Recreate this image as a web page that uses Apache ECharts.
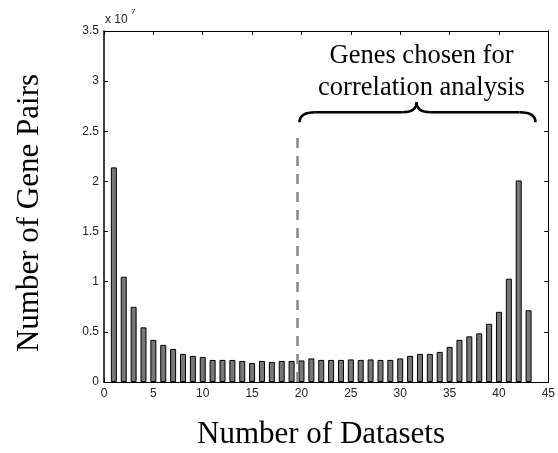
<!DOCTYPE html>
<html>
<head>
<meta charset="utf-8">
<script src="https://cdn.jsdelivr.net/npm/echarts@6/dist/echarts.min.js"></script>
<style>html,body{margin:0;padding:0;background:#fff}#c{width:558px;height:453px}</style>
</head>
<body>
<div id="c"></div>
<script>
// Data (values in units of 1e7 gene pairs)
var datasets = [1,2,3,4,5,6,7,8,9,10,11,12,13,14,15,16,17,18,19,20,21,22,23,24,25,26,27,28,29,30,31,32,33,34,35,36,37,38,39,40,41,42,43];
var pairs = [2.14,1.05,0.75,0.545,0.42,0.37,0.33,0.28,0.26,0.25,0.22,0.22,0.22,0.21,0.19,0.21,0.20,0.21,0.21,0.215,0.235,0.22,0.22,0.22,0.225,0.22,0.225,0.22,0.22,0.235,0.26,0.28,0.28,0.30,0.35,0.42,0.455,0.485,0.58,0.70,1.03,2.01,0.715];
var scale = 1e7;
var xTicks = [0,5,10,15,20,25,30,35,40,45];
var yTicks = [0,0.5,1,1.5,2,2.5,3,3.5];
var cutoff = 19.6;       // dashed line position
var cutoffTop = 2.47;    // dashed line top (x1e7)

var chart = echarts.init(document.getElementById('c'), null, {renderer:'canvas'});
var tickFont = {fontFamily:'Liberation Sans, Arial, sans-serif', fontSize:12, color:'#222'};
var axisLine = {show:true, onZero:false, lineStyle:{color:'#000', width:1}};
var tickStyle = {show:true, inside:true, length:4, lineStyle:{color:'#000', width:1}};

var barData = datasets.map(function(d,i){ return [d, pairs[i]*scale]; });

chart.setOption({
  animation:false,
  grid:{left:104, right:8, top:31, bottom:71},
  xAxis:[
    {type:'value', min:0, max:45, interval:5, position:'bottom',
     axisLine:axisLine, axisTick:tickStyle, splitLine:{show:false},
     axisLabel:Object.assign({margin:6}, tickFont)},
    {type:'value', min:0, max:45, interval:5, position:'top',
     axisLine:axisLine, axisTick:tickStyle, splitLine:{show:false},
     axisLabel:{show:false}}
  ],
  yAxis:[
    {type:'value', min:0, max:3.5*scale, interval:0.5*scale, position:'left',
     axisLine:{show:true, onZero:false, lineStyle:{color:'#000', width:1.5}}, axisTick:tickStyle, splitLine:{show:false},
     axisLabel:Object.assign({margin:5, formatter:function(v){ return String(+(v/scale).toFixed(1)); }}, tickFont)},
    {type:'value', min:0, max:3.5*scale, interval:0.5*scale, position:'right',
     axisLine:axisLine, axisTick:tickStyle, splitLine:{show:false},
     axisLabel:{show:false}}
  ],
  series:[{
    type:'bar', xAxisIndex:0, yAxisIndex:0,
    data:barData, barWidth:6,
    itemStyle:{color:'#777', borderColor:'#000', borderWidth:1},
    markLine:{
      silent:true, symbol:'none', label:{show:false},
      lineStyle:{color:'#888', width:2.5, type:[10,8]},
      data:[[{coord:[cutoff,0]},{coord:[cutoff,cutoffTop*scale]}]]
    }
  },{
    type:'line', xAxisIndex:1, yAxisIndex:1, data:[], silent:true
  }]
});

// Annotations: brace, text, exponent
var pl = chart.convertToPixel({xAxisIndex:0, yAxisIndex:0}, [19.8, 2.59*scale]);
var pr = chart.convertToPixel({xAxisIndex:0, yAxisIndex:0}, [43.7, 2.59*scale]);
var xl = pl[0], xr = pr[0], yb = pl[1];
var xm = (xl+xr)/2 - 1, yh = yb - 10, yc = yb - 20;
var braceStyle = {fill:null, stroke:'#000', lineWidth:2.5};
function qc(x1,y1,cx,cy,x2,y2){
  return {type:'bezierCurve', shape:{x1:x1,y1:y1,cpx1:cx,cpy1:cy,x2:x2,y2:y2}, style:braceStyle};
}
function ln(x1,y1,x2,y2){
  return {type:'line', shape:{x1:x1,y1:y1,x2:x2,y2:y2}, style:braceStyle};
}

var serif = 'Liberation Serif, Times New Roman, serif';
chart.setOption({graphic:[
  qc(xl,yb, xl,yh, xl+16,yh),
  ln(xl+16,yh, xm-14,yh),
  qc(xm-14,yh, xm,yh, xm,yc),
  qc(xm,yc, xm,yh, xm+14,yh),
  ln(xm+14,yh, xr-16,yh),
  qc(xr-16,yh, xr,yh, xr,yb),
  {type:'text', x:xm+5, y:56, style:{text:'Genes chosen for', font:'26.5px '+serif, fill:'#000', textAlign:'center', textVerticalAlign:'middle'}},
  {type:'text', x:xm+5, y:88, style:{text:'correlation analysis', font:'26.5px '+serif, fill:'#000', textAlign:'center', textVerticalAlign:'middle'}},
  {type:'text', x:321, y:435, style:{text:'Number of Datasets', font:'31px '+serif, fill:'#000', textAlign:'center', textVerticalAlign:'middle'}},
  {type:'text', x:30, y:213, rotation:Math.PI/2, style:{text:'Number of Gene Pairs', font:'31px '+serif, fill:'#000', textAlign:'center', textVerticalAlign:'middle'}},
  {type:'text', x:105, y:20, style:{text:'x 10', font:'12px Liberation Sans, Arial, sans-serif', fill:'#222', textVerticalAlign:'middle'}},
  {type:'text', x:131, y:12, style:{text:'7', font:'8px Liberation Sans, Arial, sans-serif', fill:'#222', textVerticalAlign:'middle'}}
]});
</script>
</body>
</html>
